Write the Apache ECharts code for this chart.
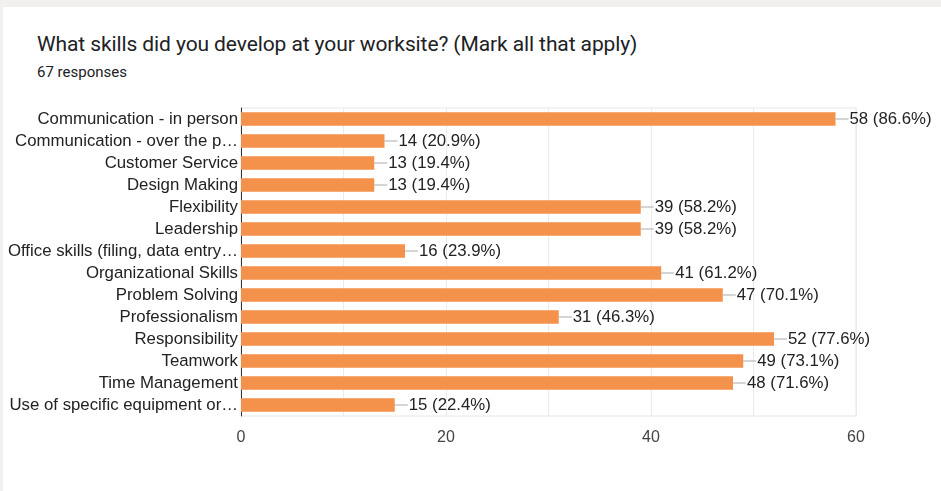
<!DOCTYPE html>
<html>
<head>
<meta charset="utf-8">
<script src="https://cdn.jsdelivr.net/npm/echarts@6/dist/echarts.min.js"></script>
<style>
  html, body { margin: 0; padding: 0; background: #f1f0ee; }
  .card { position: absolute; left: 3px; top: 7px; width: 938px; height: 484px; background: #fff; }
  .title { position: absolute; left: 34px; top: 25px; font-family: Roboto, sans-serif; font-size: 21px; color: #202124; letter-spacing: -0.1px; }
  .sub { position: absolute; left: 34px; top: 56px; font-family: Roboto, sans-serif; font-size: 15px; color: #202124; }
  #main { position: absolute; left: -3px; top: -7px; width: 941px; height: 491px; }
</style>
</head>
<body>
<div class="card">
  <div class="title">What skills did you develop at your worksite? (Mark all that apply)</div>
  <div class="sub">67 responses</div>
  <div id="main"></div>
</div>
<script>
  var skills = ['Communication - in person', 'Communication - over the p…', 'Customer Service', 'Design Making',
    'Flexibility', 'Leadership', 'Office skills (filing, data entry…', 'Organizational Skills', 'Problem Solving',
    'Professionalism', 'Responsibility', 'Teamwork', 'Time Management', 'Use of specific equipment or…'];
  var counts = [58, 14, 13, 13, 39, 39, 16, 41, 47, 31, 52, 49, 48, 15];
  var total = 67;
  var ticks = [0, 20, 40, 60];

  var myChart = echarts.init(document.getElementById('main'));
  var option = {
    animation: false,
    grid: { left: 241, right: 85, top: 108, bottom: 75, show: true, borderColor: '#e6e6e6', borderWidth: 1 },
    xAxis: {
      type: 'value', min: 0, max: 60, interval: 10,
      axisLine: { show: false }, axisTick: { show: false },
      splitLine: { lineStyle: { color: '#ebebeb' } },
      axisLabel: {
        margin: 14, fontFamily: 'Liberation Sans, Arial', fontSize: 16, color: '#444',
        formatter: function (v) { return ticks.indexOf(v) >= 0 ? v : ''; }
      }
    },
    yAxis: {
      type: 'category', inverse: true, data: skills,
      axisLine: { lineStyle: { color: '#333', width: 1 } }, axisTick: { show: false },
      axisLabel: { interval: 0, margin: 3, fontFamily: 'Liberation Sans, Arial', fontSize: 16.8, color: '#222' }
    },
    series: [{
      type: 'bar', data: counts, barCategoryGap: '38%',
      itemStyle: { color: '#f4914b' },
      label: {
        show: true, position: 'right', distance: 0,
        formatter: function (p) { return '{l|}{v|' + p.value + ' (' + (p.value / total * 100).toFixed(1) + '%)}'; },
        rich: {
          l: { width: 13, height: 1, backgroundColor: '#aaa' },
          v: { fontFamily: 'Liberation Sans, Arial', fontSize: 16.8, color: '#222', padding: [0, 0, 0, 1] }
        }
      }
    }]
  };
  myChart.setOption(option);
</script>
</body>
</html>
